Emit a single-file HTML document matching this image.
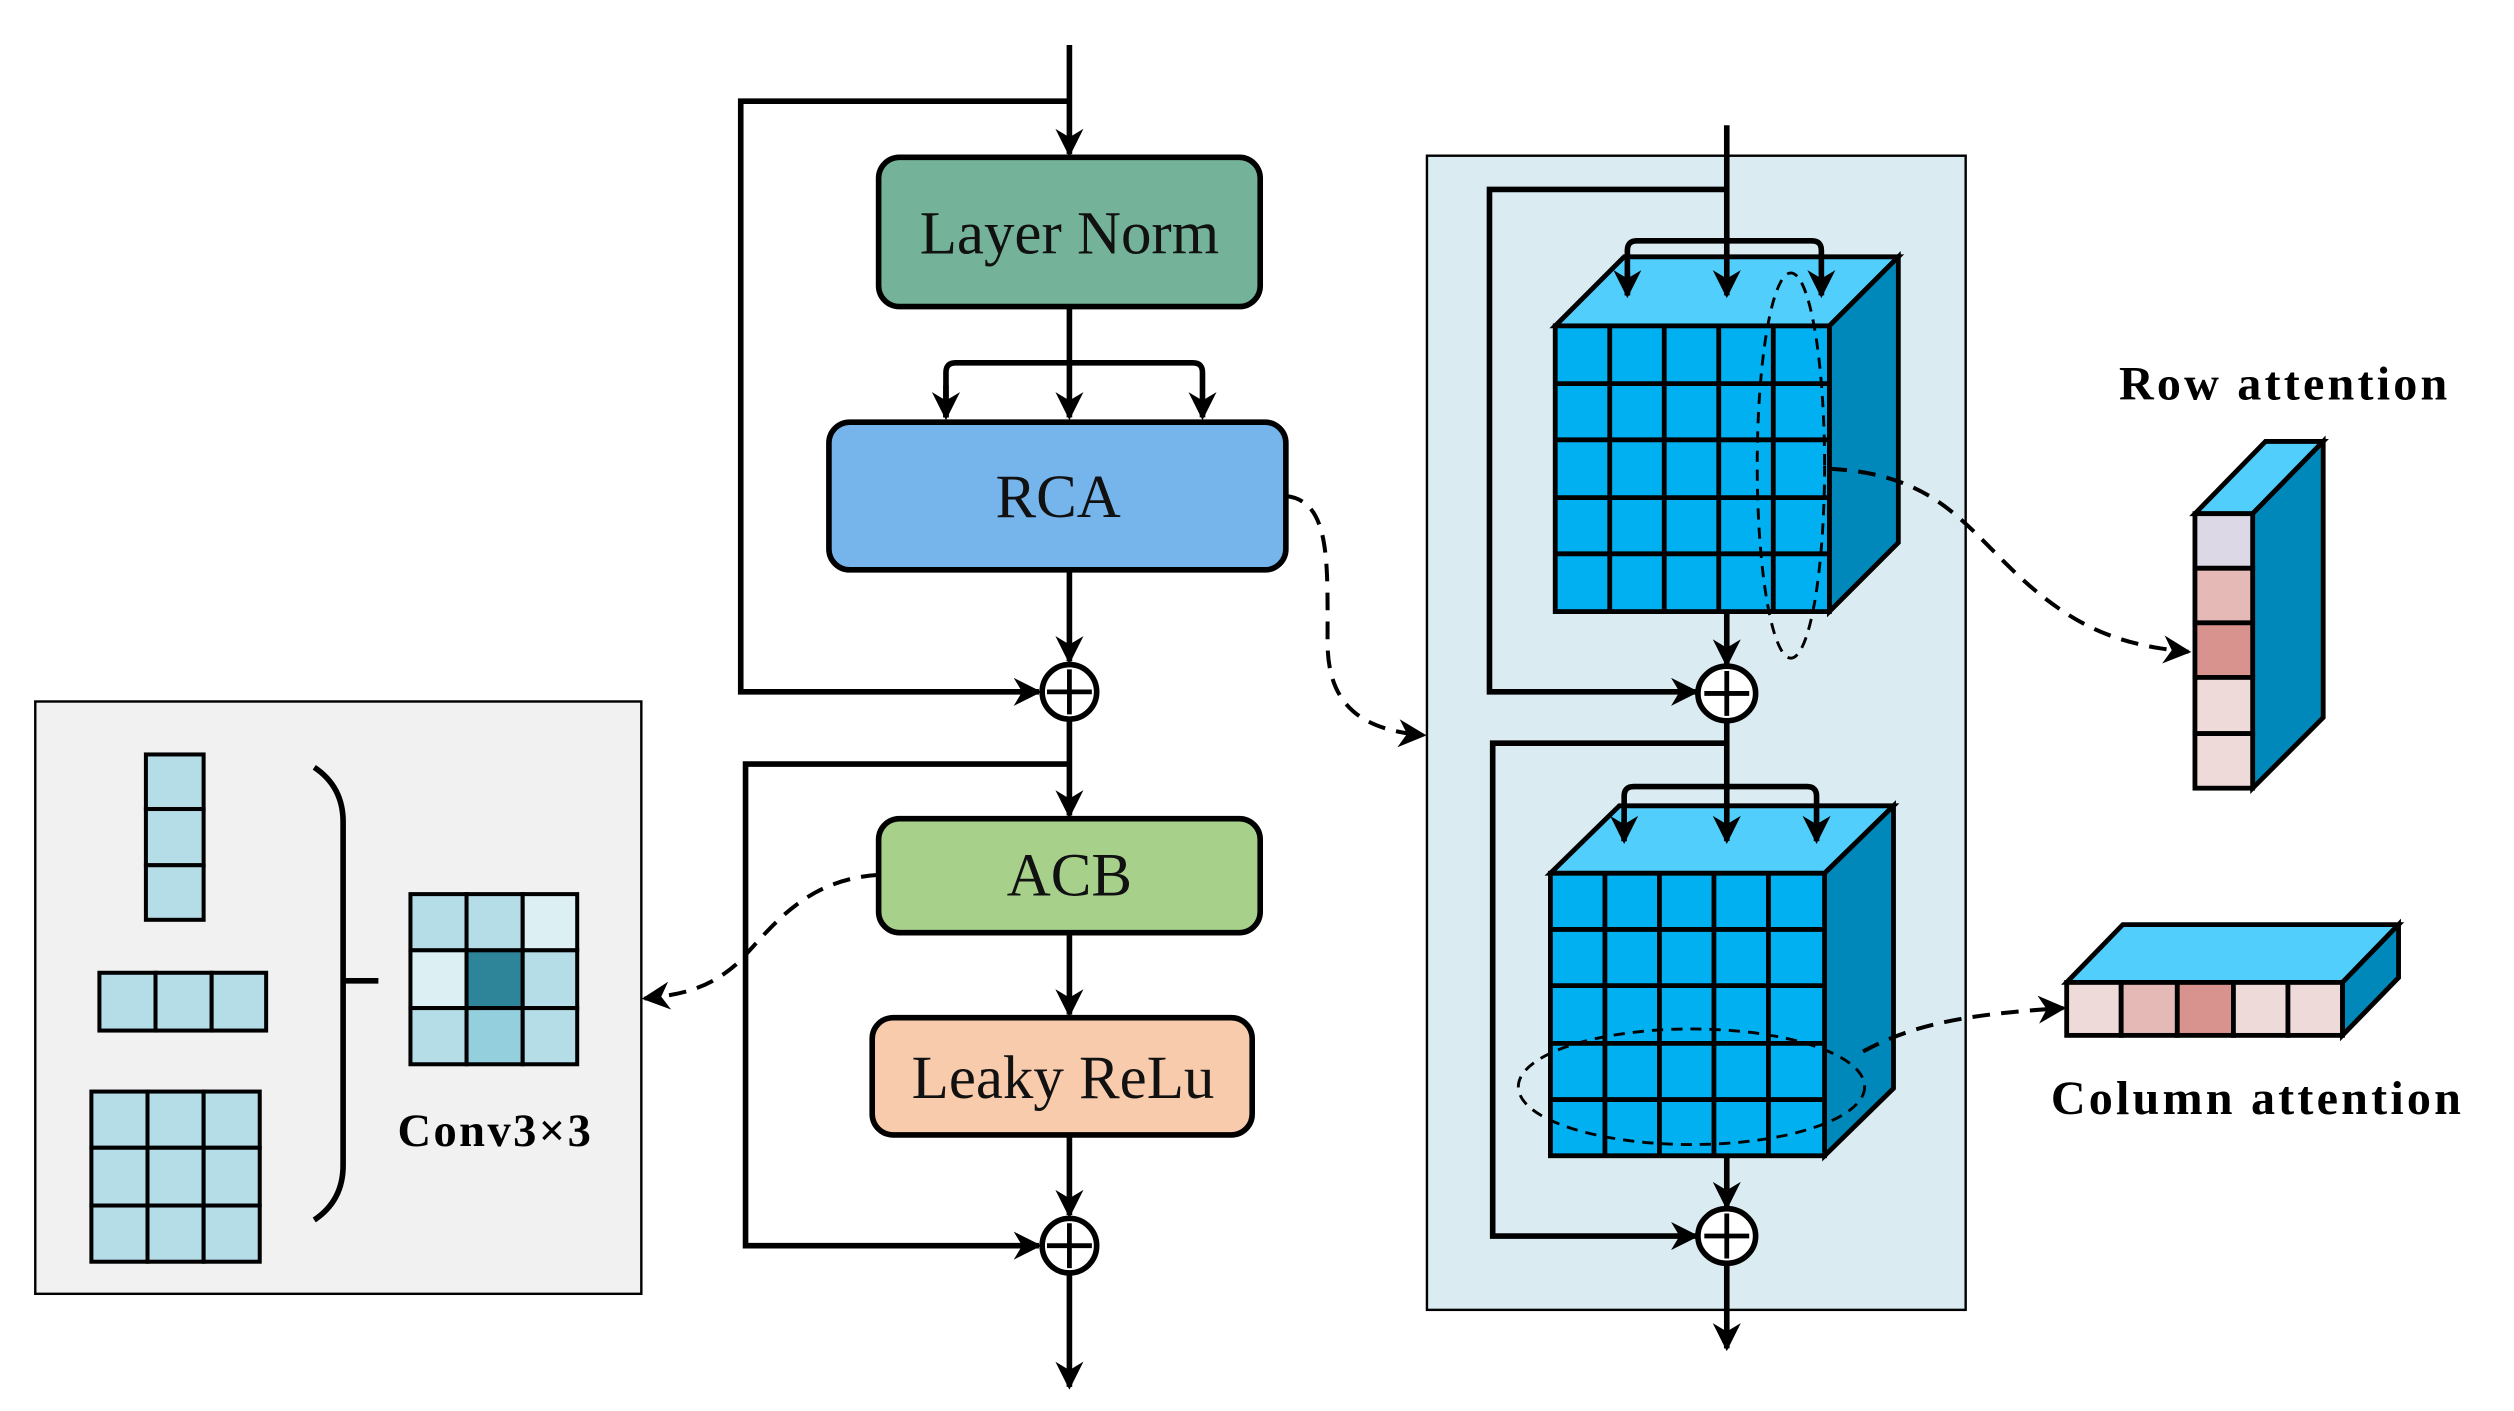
<!DOCTYPE html>
<html><head><meta charset="utf-8"><style>html,body{margin:0;padding:0;background:#fff}svg{display:block}text{font-family:"Liberation Serif",serif}</style></head><body>
<svg width="2514" height="1411" viewBox="0 0 1568 879" preserveAspectRatio="none" xmlns="http://www.w3.org/2000/svg">
<defs>
<marker id="a" viewBox="0 0 10 10" refX="9" refY="5" markerWidth="5" markerHeight="5" orient="auto" markerUnits="strokeWidth"><path d="M0,0 L10,5 L0,10 L3,5z" fill="#000"/></marker>
<marker id="b" viewBox="0 0 10 10" refX="9" refY="5" markerWidth="7" markerHeight="7" orient="auto" markerUnits="strokeWidth"><path d="M0,0 L10,5 L0,10 L3,5z" fill="#000"/></marker>
</defs>
<g stroke="#000" stroke-width="3.5" fill="none">
<line x1="667" y1="28" x2="667" y2="96" marker-end="url(#a)"/>
<polyline points="667,63 462,63 462,431 648,431" marker-end="url(#a)"/>
<line x1="667" y1="191" x2="667" y2="260" marker-end="url(#a)"/>
<path d="M590,260 V232 Q590,226 596,226 H744 Q750,226 750,232 V260" marker-end="url(#a)"/>
<path d="M590,240 V260" marker-end="url(#a)"/>
<line x1="667" y1="355" x2="667" y2="412" marker-end="url(#a)"/>
<line x1="667" y1="448" x2="667" y2="508" marker-end="url(#a)"/>
<polyline points="667,476 465,476 465,776 648,776" marker-end="url(#a)"/>
<line x1="667" y1="581" x2="667" y2="632" marker-end="url(#a)"/>
<line x1="667" y1="707" x2="667" y2="757" marker-end="url(#a)"/>
<line x1="667" y1="793" x2="667" y2="864" marker-end="url(#a)"/>
</g>
<g stroke="#000" stroke-width="3.5">
<rect x="548" y="98" width="238" height="93" rx="13" fill="#74b39a"/>
<rect x="517" y="263" width="285" height="92" rx="13" fill="#75b5ec"/>
<rect x="548" y="510" width="238" height="71" rx="13" fill="#a7d18b"/>
<rect x="544" y="634" width="237" height="73" rx="13" fill="#f7cbac"/>
<circle cx="667" cy="431" r="17" fill="#fff"/>
<circle cx="667" cy="776" r="17" fill="#fff"/>
</g>
<g stroke="#000" stroke-width="3"><line x1="653" y1="431" x2="681" y2="431"/><line x1="667" y1="417" x2="667" y2="445"/><line x1="653" y1="776" x2="681" y2="776"/><line x1="667" y1="762" x2="667" y2="790"/></g>
<g font-size="38" text-anchor="middle" fill="#111">
<text x="667" y="158">Layer Norm</text>
<text x="660" y="322">RCA</text>
<text x="667" y="558">ACB</text>
<text x="663" y="684">Leaky ReLu</text>
</g>
<rect x="22" y="437" width="378" height="369" fill="#f1f1f1" stroke="#000" stroke-width="1.5"/>
<g stroke="#000" stroke-width="2.5" fill="#b5dde8">
<rect x="91" y="470" width="36" height="34"/><rect x="91" y="504" width="36" height="35"/><rect x="91" y="539" width="36" height="34"/>
<rect x="62" y="606" width="35" height="36"/><rect x="97" y="606" width="35" height="36"/><rect x="132" y="606" width="34" height="36"/>
<rect x="57" y="680" width="35" height="35"/><rect x="92" y="680" width="35" height="35"/><rect x="127" y="680" width="35" height="35"/>
<rect x="57" y="715" width="35" height="36"/><rect x="92" y="715" width="35" height="36"/><rect x="127" y="715" width="35" height="36"/>
<rect x="57" y="751" width="35" height="35"/><rect x="92" y="751" width="35" height="35"/><rect x="127" y="751" width="35" height="35"/>
<rect x="256" y="557" width="35" height="35"/><rect x="291" y="557" width="35" height="35"/><rect x="326" y="557" width="34" height="35" fill="#dcf0f4"/>
<rect x="256" y="592" width="35" height="36" fill="#dcf0f4"/><rect x="291" y="592" width="35" height="36" fill="#2e8599"/><rect x="326" y="592" width="34" height="36"/>
<rect x="256" y="628" width="35" height="35"/><rect x="291" y="628" width="35" height="35" fill="#94cfdd"/><rect x="326" y="628" width="34" height="35"/>
</g>
<path d="M196,478 Q214,490 214,512 V726 Q214,748 196,760 M214,611 H236" stroke="#000" stroke-width="3.5" fill="none"/>
<text x="309" y="714" font-size="29" font-weight="bold" text-anchor="middle" letter-spacing="1.5">Conv3×3</text>
<path d="M548,545 C500,548 480,580 460,600 C440,618 420,620 402,622" stroke="#000" stroke-width="2.5" fill="none" stroke-dasharray="11,7" marker-end="url(#b)"/>
<path d="M802,309 C830,312 828,350 828,400 C828,440 850,455 888,458" stroke="#000" stroke-width="2.5" fill="none" stroke-dasharray="11,7" marker-end="url(#b)"/>
<rect x="890" y="97" width="336" height="719" fill="#daecf2" stroke="#000" stroke-width="1.5"/>
<g stroke="#000" stroke-width="3.5" fill="none">
<polyline points="1077,118 929,118 929,431 1058,431" marker-end="url(#a)"/>
<polyline points="1077,463 931,463 931,770 1058,770" marker-end="url(#a)"/>
</g>
<g stroke="#000" stroke-width="3">
<polygon points="970,203 1141,203 1184,160 1013,160" fill="#52cefc"/>
<polygon points="1141,203 1184,160 1184,338 1141,381" fill="#0088bb"/>
<rect x="970" y="203" width="171" height="178" fill="#00b0f0"/>
<polygon points="967,544 1138,544 1181,502 1010,502" fill="#52cefc"/>
<polygon points="1138,544 1181,502 1181,678 1138,720" fill="#0088bb"/>
<rect x="967" y="544" width="171" height="176" fill="#00b0f0"/>
</g>
<g stroke="#000" stroke-width="3">
<line x1="1004" y1="203" x2="1004" y2="381"/><line x1="1038" y1="203" x2="1038" y2="381"/><line x1="1072" y1="203" x2="1072" y2="381"/><line x1="1106" y1="203" x2="1106" y2="381"/>
<line x1="970" y1="239" x2="1141" y2="239"/><line x1="970" y1="274" x2="1141" y2="274"/><line x1="970" y1="310" x2="1141" y2="310"/><line x1="970" y1="345" x2="1141" y2="345"/>
<line x1="1001" y1="544" x2="1001" y2="720"/><line x1="1035" y1="544" x2="1035" y2="720"/><line x1="1069" y1="544" x2="1069" y2="720"/><line x1="1103" y1="544" x2="1103" y2="720"/>
<line x1="967" y1="579" x2="1138" y2="579"/><line x1="967" y1="614" x2="1138" y2="614"/><line x1="967" y1="650" x2="1138" y2="650"/><line x1="967" y1="685" x2="1138" y2="685"/>
</g>
<g stroke="#000" stroke-width="3.5" fill="none">
<line x1="1077" y1="78" x2="1077" y2="184" marker-end="url(#a)"/>
<path d="M1015,184 V156 Q1015,150 1021,150 H1130 Q1136,150 1136,156 V184" marker-end="url(#a)"/>
<path d="M1015,170 V184" marker-end="url(#a)"/>
<line x1="1077" y1="381" x2="1077" y2="414" marker-end="url(#a)"/>
<line x1="1077" y1="449" x2="1077" y2="524" marker-end="url(#a)"/>
<path d="M1013,524 V496 Q1013,490 1019,490 H1127 Q1133,490 1133,496 V524" marker-end="url(#a)"/>
<path d="M1013,510 V524" marker-end="url(#a)"/>
<line x1="1077" y1="720" x2="1077" y2="752" marker-end="url(#a)"/>
<line x1="1077" y1="787" x2="1077" y2="840" marker-end="url(#a)"/>
</g>
<g stroke="#000" stroke-width="3.5" fill="#fff">
<ellipse cx="1077" cy="432" rx="18" ry="17"/><ellipse cx="1077" cy="770" rx="18" ry="17"/>
</g>
<g stroke="#000" stroke-width="3"><line x1="1063" y1="432" x2="1091" y2="432"/><line x1="1077" y1="418" x2="1077" y2="446"/><line x1="1063" y1="770" x2="1091" y2="770"/><line x1="1077" y1="756" x2="1077" y2="784"/></g>
<g stroke="#000" stroke-width="1.8" fill="none" stroke-dasharray="7,5">
<ellipse cx="1117" cy="290" rx="21" ry="120"/>
<ellipse cx="1055" cy="677" rx="108" ry="36"/>
</g>
<g stroke="#000" stroke-width="2.5" fill="none" stroke-dasharray="11,7">
<path d="M1141,292 C1200,295 1220,320 1250,350 C1290,390 1320,402 1365,406" marker-end="url(#b)"/>
<path d="M1162,655 C1190,640 1220,632 1287,628" marker-end="url(#b)"/>
</g>
<g stroke="#000" stroke-width="3">
<polygon points="1369,320 1405,320 1449,275 1413,275" fill="#52cefc"/>
<polygon points="1405,320 1449,275 1449,447 1405,491" fill="#0088bb"/>
<rect x="1369" y="320" width="36" height="34" fill="#dcd8e5"/><rect x="1369" y="354" width="36" height="34" fill="#e4b9b6"/><rect x="1369" y="388" width="36" height="34" fill="#d8938f"/><rect x="1369" y="422" width="36" height="35" fill="#eedad9"/><rect x="1369" y="457" width="36" height="34" fill="#eedad9"/>
<polygon points="1289,612 1461,612 1496,576 1324,576" fill="#52cefc"/>
<polygon points="1461,612 1496,576 1496,609 1461,645" fill="#0088bb"/>
<rect x="1289" y="612" width="34" height="33" fill="#eedad9"/><rect x="1323" y="612" width="35" height="33" fill="#e4b9b6"/><rect x="1358" y="612" width="35" height="33" fill="#d8938f"/><rect x="1393" y="612" width="34" height="33" fill="#eedad9"/><rect x="1427" y="612" width="34" height="33" fill="#eedad9"/>
</g>
<g font-size="30" font-weight="bold" text-anchor="middle" letter-spacing="2">
<text x="1425" y="249">Row attention</text>
<text x="1408" y="694">Column attention</text>
</g>
</svg>
</body></html>
